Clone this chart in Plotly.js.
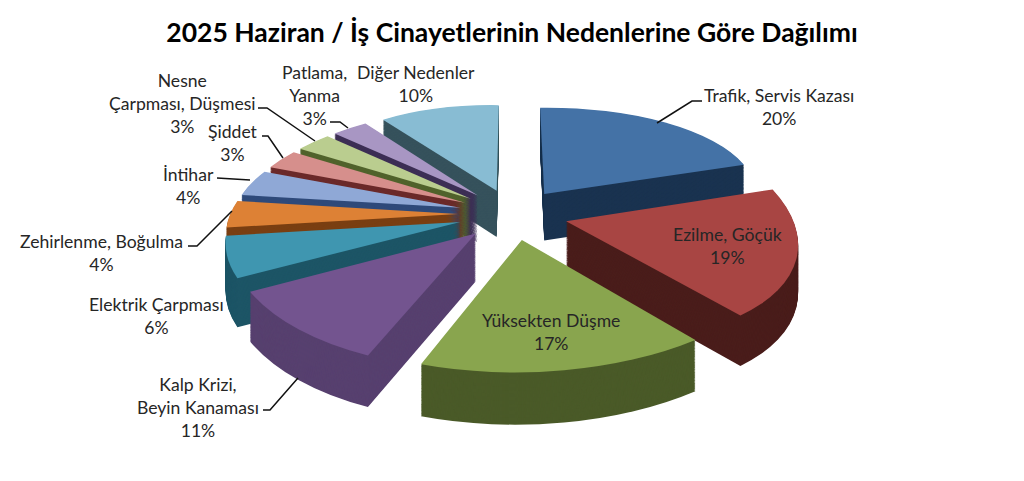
<!DOCTYPE html>
<html><head><meta charset="utf-8">
<script src="https://cdn.plot.ly/plotly-3.0.1.min.js"></script>
<style>html,body{margin:0;padding:0;background:#fff}#c{width:1024px;height:481px}</style>
</head><body><div id="c"></div>
<script>
const categories=["Trafik, Servis Kazası","Ezilme, Göçük","Yüksekten Düşme","Kalp Krizi,<br>Beyin Kanaması","Elektrik Çarpması","Zehirlenme, Boğulma","İntihar","Şiddet","Nesne<br>Çarpması, Düşmesi","Patlama,<br>Yanma","Diğer Nedenler"];
const values=[20,19,17,11,6,4,4,3,3,3,10];
const topColors=["#4472a6","#a84543","#89a54e","#73548f","#3f96b0","#dd8135","#8fa8d6","#d68f8c","#bacd8f","#a896c3","#88bcd3"];
const sideColors=["#1a3350","#4a1d1b","#4a5a28","#57406f","#1d5566","#7a3f12","#2f4a7a","#6b2a2a","#51632c","#3d2f55","#36525c"];
const labelX=[779,727,551,198,156,101,188,233,182,314,416];
const labelY=[107,246,332,407,316,253,186,143,103,95,84];
const leaders=[[[702,101],[692,101],[657,123]],[[263,410],[270,410],[298,378]],[[188,246],[197,246],[232,211]],[[217,178],[250,180]],[[262,136],[268,136],[283,158]],[[258,108],[267,108],[315,141]],[[330,122],[340,122],[348,128]]];
const W=1024,H=481,EXPLODE=0.24,LAYERS=56;
// perspective view of the tilted pie plane
const CX=513,CY=214,A=228,B=105.5,PERSP=0.155,DEPTH=47;
function project(X,Y,k){const w=1/(1-PERSP*Y);return [CX+A*X*w,CY+B*Y*w+DEPTH*Math.sqrt(w)*k/LAYERS];}
const px=x=>x/W, py=y=>1-y/H;
const traces=[];
for(let k=LAYERS;k>=0;k--){
  traces.push({type:'pie',values,labels:categories,sort:false,direction:'clockwise',rotation:0,pull:EXPLODE,
    textinfo:'none',hoverinfo:'skip',showlegend:false,
    marker:{colors:k?sideColors:topColors,line:{width:0}}});
}
const total=values.reduce((a,b)=>a+b,0);
const annotations=categories.map((c,i)=>({xref:'paper',yref:'paper',x:px(labelX[i]),y:py(labelY[i]),
  text:c+'<br>'+values[i]+'%',showarrow:false,xanchor:'center',yanchor:'middle',align:'center',
  font:{family:'Lato, sans-serif',size:17.6,color:'#262626'}}));
const shapes=leaders.map(p=>({type:'path',xref:'paper',yref:'paper',
  path:'M'+p.map(q=>px(q[0])+','+py(q[1])).join('L'),line:{color:'#111',width:1.5}}));
const layout={width:W,height:H,margin:{l:0,r:0,t:0,b:0},paper_bgcolor:'#fff',showlegend:false,
  title:{text:'<b>2025 Haziran / İş Cinayetlerinin Nedenlerine Göre Dağılımı</b>',x:0.5,xanchor:'center',y:0.932,yanchor:'middle',
    font:{family:'Lato, sans-serif',size:26.5,color:'#000'}},
  annotations,shapes};
function solve(S,T){
  const ux=S[1][0]-S[0][0],uy=S[1][1]-S[0][1],vx=S[2][0]-S[0][0],vy=S[2][1]-S[0][1];
  const Ux=T[1][0]-T[0][0],Uy=T[1][1]-T[0][1],Vx=T[2][0]-T[0][0],Vy=T[2][1]-T[0][1];
  const det=ux*vy-vx*uy;
  const a=(Ux*vy-Vx*uy)/det,c=(Vx*ux-Ux*vx)/det,b=(Uy*vy-Vy*uy)/det,d=(Vy*ux-Uy*vx)/det;
  return [a,b,c,d,T[0][0]-a*S[0][0]-c*S[0][1],T[0][1]-b*S[0][0]-d*S[0][1]];
}
const gd=document.getElementById('c');
Plotly.newPlot(gd,traces,layout,{displayModeBar:false,staticPlot:true}).then(()=>{
  gd.querySelectorAll('.pielayer .trace').forEach((g,t)=>{
    const cd=gd.calcdata[t], r=cd[0].r, k=LAYERS-t;
    let cum=0;
    g.querySelectorAll('.slice').forEach((s,i)=>{
      const a0=cum/total*2*Math.PI, a1=(cum+values[i])/total*2*Math.PI, m=(a0+a1)/2; cum+=values[i];
      const ex=EXPLODE*Math.sin(m), ey=-EXPLODE*Math.cos(m);
      const ax=cd[i].cxFinal, ay=cd[i].cyFinal;
      const src=[[ax,ay],[ax+r*Math.sin(a0),ay-r*Math.cos(a0)],[ax+r*Math.sin(a1),ay-r*Math.cos(a1)]];
      const dst=[project(ex,ey,k),project(ex+Math.sin(a0),ey-Math.cos(a0),k),project(ex+Math.sin(a1),ey-Math.cos(a1),k)];
      s.setAttribute('transform','matrix('+solve(src,dst).join(' ')+')');
    });
  });
});
</script></body></html>
